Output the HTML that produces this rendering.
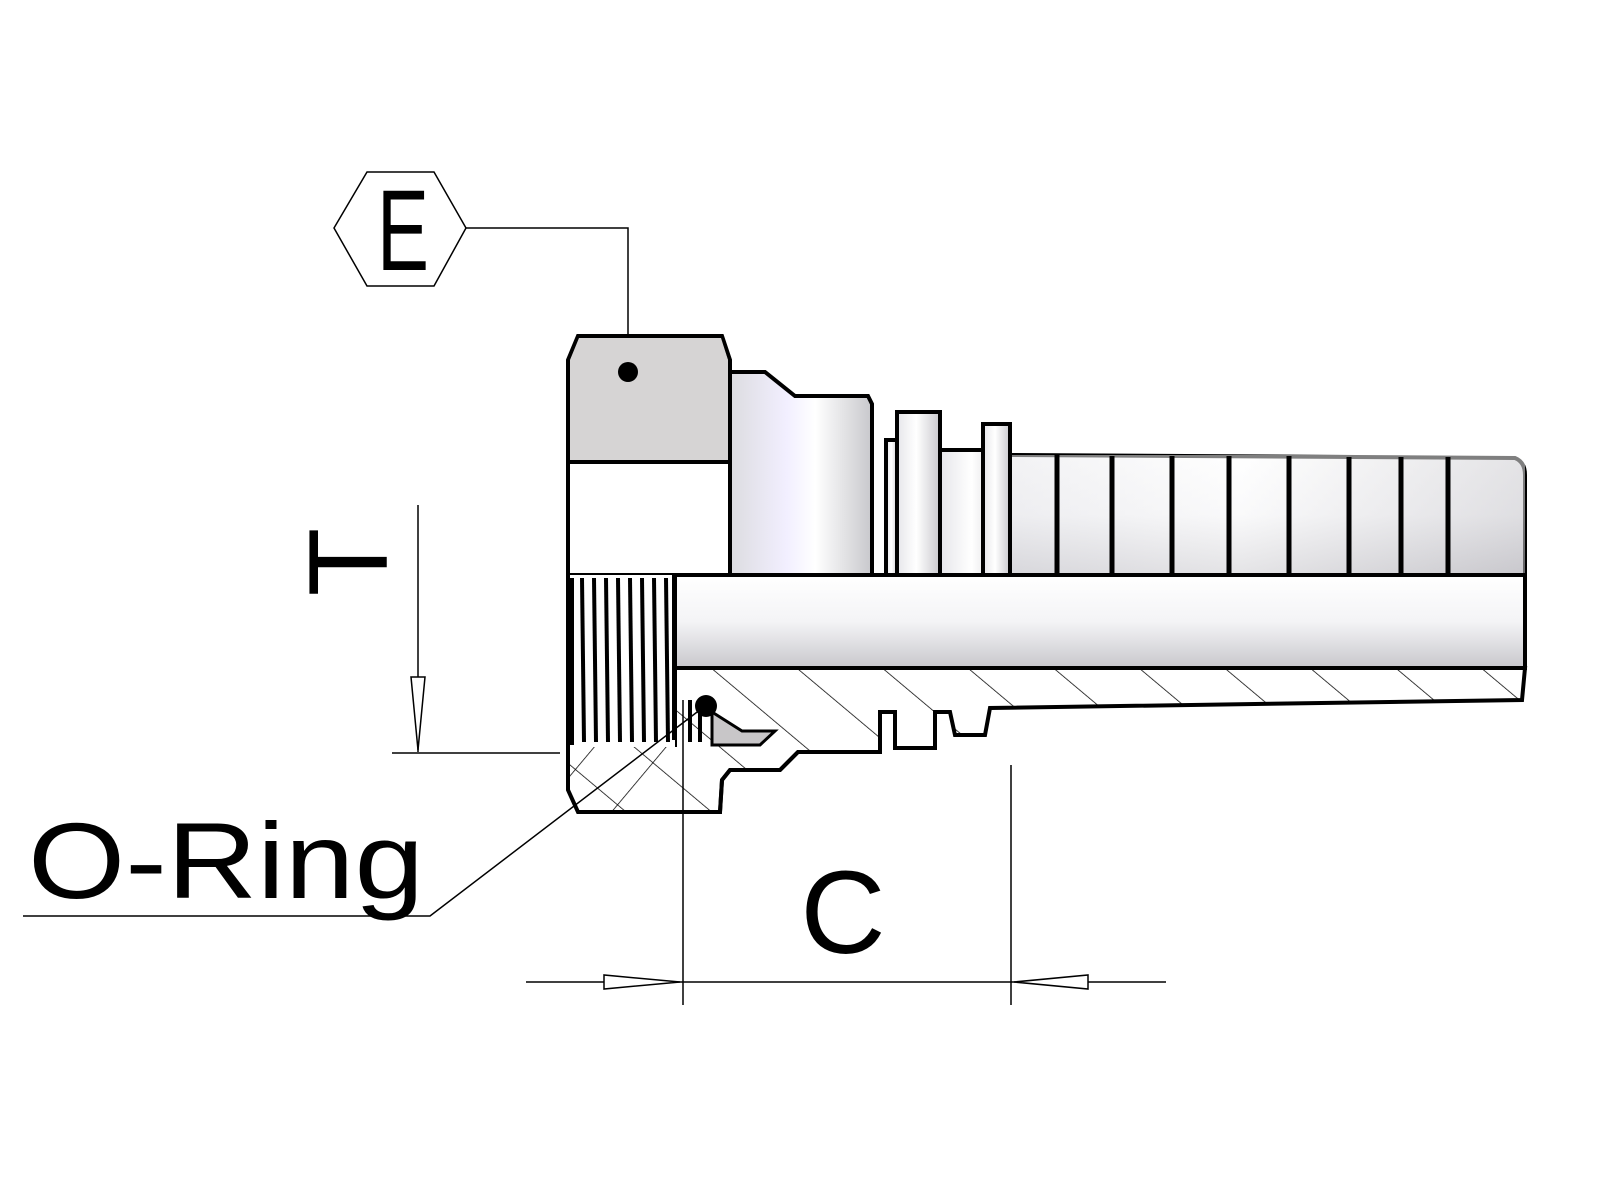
<!DOCTYPE html>
<html><head><style>html,body{margin:0;padding:0;background:#fff}svg{display:block}</style></head>
<body>
<svg width="1600" height="1200" viewBox="0 0 1600 1200" xmlns="http://www.w3.org/2000/svg" font-family="Liberation Sans, DejaVu Sans, sans-serif">
<defs>
<linearGradient id="bar" x1="0" y1="0" x2="0" y2="1">
<stop offset="0" stop-color="#fff"/><stop offset="0.5" stop-color="#f4f4f6"/><stop offset="1" stop-color="#c8c7cc"/>
</linearGradient>
<linearGradient id="barh" x1="0" y1="0" x2="1" y2="0">
<stop offset="0" stop-color="#e6e6ea"/><stop offset="0.45" stop-color="#fff"/><stop offset="1" stop-color="#c9c8cd"/>
</linearGradient>
<linearGradient id="shoulder" x1="0" y1="0" x2="1" y2="0">
<stop offset="0" stop-color="#dcdce0"/><stop offset="0.4" stop-color="#f2efff"/><stop offset="0.6" stop-color="#fff"/><stop offset="1" stop-color="#c8c8cc"/>
</linearGradient>
<pattern id="hatch" patternUnits="userSpaceOnUse" width="55" height="55" patternTransform="rotate(-50)">
<line x1="0" y1="0" x2="0" y2="55" stroke="#000" stroke-width="1.5"/>
</pattern>
<pattern id="hatch2" patternUnits="userSpaceOnUse" width="55" height="55" patternTransform="rotate(40)">
<line x1="0" y1="0" x2="0" y2="55" stroke="#000" stroke-width="1.5"/>
</pattern>
</defs>

<!-- hex E -->
<polygon points="334,228 367,172 434,172 466,228 434,286 367,286" fill="#fff" stroke="#000" stroke-width="1.5"/>
<text x="377" y="270" font-size="115" textLength="52" lengthAdjust="spacingAndGlyphs">E</text>
<polyline points="466,228 628,228 628,370" fill="none" stroke="#000" stroke-width="1.5"/>

<!-- barb tail -->
<path d="M1010,455 L1515,458 Q1525,462 1525,475 L1525,575 L1010,575 Z" fill="url(#barh)" stroke="#000" stroke-width="4"/>
<rect x="1010" y="455" width="515" height="120" fill="url(#bar)" opacity="0.5"/>
<g stroke="#000" stroke-width="5">
<line x1="1057" y1="455" x2="1057" y2="575"/><line x1="1112" y1="456" x2="1112" y2="575"/>
<line x1="1172" y1="456" x2="1172" y2="575"/><line x1="1229" y1="456" x2="1229" y2="575"/>
<line x1="1289" y1="456" x2="1289" y2="575"/><line x1="1349" y1="457" x2="1349" y2="575"/>
<line x1="1401" y1="457" x2="1401" y2="575"/><line x1="1448" y1="457" x2="1448" y2="575"/>
</g>
<!-- collars -->
<rect x="940" y="450" width="70" height="125" fill="url(#barh)" stroke="#000" stroke-width="4"/>
<rect x="983" y="424" width="27" height="151" fill="url(#barh)" stroke="#000" stroke-width="4"/>
<rect x="886" y="440" width="12" height="135" fill="url(#barh)" stroke="#000" stroke-width="4"/>
<rect x="897" y="412" width="43" height="163" fill="url(#barh)" stroke="#000" stroke-width="4"/>
<!-- shoulder -->
<path d="M730,372 L765,372 L795,396 L868,396 L872,404 L872,575 L730,575 Z" fill="url(#shoulder)" stroke="#000" stroke-width="4"/>

<!-- nut -->
<path d="M578,336 L722,336 L730,360 L730,575 L568,575 L568,360 Z" fill="#fff" stroke="#000" stroke-width="4"/>
<path d="M579,338 L721,338 L728,360 L728,462 L570,462 L570,360 Z" fill="#d6d4d4"/>
<line x1="570" y1="462" x2="728" y2="462" stroke="#000" stroke-width="4"/>
<circle cx="628" cy="372" r="10" fill="#000"/>

<!-- bore -->
<rect x="675" y="575" width="850" height="93" fill="url(#bar)" stroke="#000" stroke-width="4"/>

<!-- lower section -->
<path d="M675,668 L1525,668 L1522,700 L990,708 L985,735 L955,735 L950,712 L935,712 L935,748 L895,748 L895,712 L880,712 L880,752 L798,752 L780,770 L730,770 L722,780 L720,812 L578,812 L568,790 L568,745 L675,745 Z" fill="url(#hatch)" stroke="#000" stroke-width="4"/>
<path d="M712,712 L742,731 L775,731 L760,745 L712,745 Z" fill="#c8c6c8" stroke="#000" stroke-width="3"/>
<rect x="568" y="745" width="107" height="67" fill="url(#hatch2)"/>
<path d="M578,812 L720,812 L722,780 L730,770 L780,770 L798,752 L880,752" fill="none" stroke="#000" stroke-width="4"/>

<!-- threads -->
<rect x="568" y="575" width="107" height="172" fill="#fff"/>
<g stroke="#000" stroke-width="4">
<line x1="572" y1="578" x2="572" y2="745"/><line x1="582" y1="578" x2="584" y2="742"/>
<line x1="594" y1="578" x2="596" y2="742"/><line x1="606" y1="578" x2="608" y2="742"/>
<line x1="618" y1="578" x2="620" y2="742"/><line x1="630" y1="578" x2="632" y2="742"/>
<line x1="642" y1="578" x2="644" y2="742"/><line x1="654" y1="578" x2="656" y2="742"/>
<line x1="666" y1="578" x2="668" y2="742"/><line x1="674" y1="575" x2="674" y2="740"/>
<line x1="690" y1="700" x2="690" y2="742"/><line x1="700" y1="705" x2="700" y2="742"/>
</g>
<line x1="568" y1="575" x2="568" y2="790" stroke="#000" stroke-width="4"/>
<circle cx="706" cy="706" r="11" fill="#000"/>

<!-- dimension T -->
<text transform="translate(387,562) rotate(-90)" font-size="112" text-anchor="middle">T</text>
<line x1="418" y1="505" x2="418" y2="752" stroke="#000" stroke-width="1.5"/>
<polygon points="411,677 425,677 418,750" fill="#fff" stroke="#000" stroke-width="1.5"/>
<line x1="392" y1="753" x2="560" y2="753" stroke="#000" stroke-width="1.5"/>

<!-- dimension C -->
<line x1="683" y1="700" x2="683" y2="1005" stroke="#000" stroke-width="1.5"/>
<line x1="1011" y1="765" x2="1011" y2="1005" stroke="#000" stroke-width="1.5"/>
<line x1="526" y1="982" x2="1166" y2="982" stroke="#000" stroke-width="1.5"/>
<polygon points="604,975 604,989 680,982" fill="#fff" stroke="#000" stroke-width="1.5"/>
<polygon points="1088,975 1088,989 1014,982" fill="#fff" stroke="#000" stroke-width="1.5"/>
<text x="843" y="953" font-size="118" text-anchor="middle">C</text>

<!-- O-Ring -->
<text x="28" y="898" font-size="108" textLength="396" lengthAdjust="spacingAndGlyphs">O-Ring</text>
<polyline points="23,916 430,916 705,706" fill="none" stroke="#000" stroke-width="1.5"/>
</svg>
</body></html>
